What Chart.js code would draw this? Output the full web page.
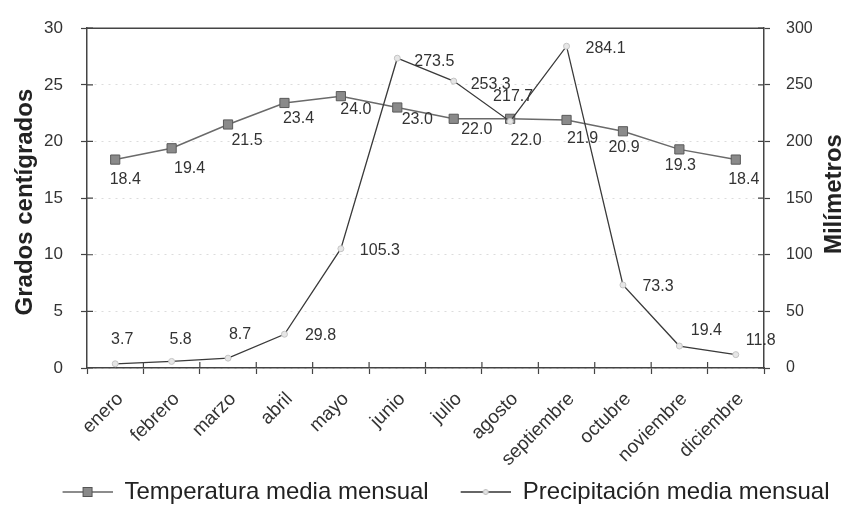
<!DOCTYPE html>
<html lang="es">
<head>
<meta charset="utf-8">
<title>Temperatura y precipitación media mensual</title>
<script src="https://cdn.jsdelivr.net/npm/chart.js@4.4.1/dist/chart.umd.min.js"></script>
<style>
  html, body { margin: 0; padding: 0; background: #fff; }
  #wrap { width: 844px; height: 514px; position: relative; }
</style>
</head>
<body>
<div id="wrap"><canvas id="clima"></canvas></div>
<script>
// --- DATOS ---
const meses = ['enero', 'febrero', 'marzo', 'abril', 'mayo', 'junio', 'julio',
               'agosto', 'septiembre', 'octubre', 'noviembre', 'diciembre'];
const temperatura = [18.4, 19.4, 21.5, 23.4, 24.0, 23.0, 22.0, 22.0, 21.9, 20.9, 19.3, 18.4];
const precipitacion = [3.7, 5.8, 8.7, 29.8, 105.3, 273.5, 253.3, 217.7, 284.1, 73.3, 19.4, 11.8];

// ejes: [min, max, paso]
const ejeGrados = [0, 30, 5];
const ejeMilimetros = [0, 300, 50];

// desplazamiento de las etiquetas de valor respecto al punto (px)
const offTemp = [[10,20],[18,20],[19,16],[14,16],[15,13],[20,12],[23,11],[16,22],[16,19],[1,16],[1,16],[8,20]];
const offPrec = [[7,-24],[9,-22],[12,-24],[36,1],[39,2],[37,3],[37,3],[3,-25],[39,2],[35,2],[27,-15],[25,-14]];

const FONT = "'Liberation Sans', Arial, Helvetica, sans-serif";
Chart.defaults.font.family = FONT;
Chart.defaults.color = '#333';

// simbolos de la leyenda: linea con marcador al centro
function legendSymbol(kind) {
    const c = document.createElement('canvas');
    c.width = 72; c.height = 14;
    const g = c.getContext('2d');
    g.strokeStyle = kind === 'temp' ? '#666' : '#333';
    g.lineWidth = 1.5;
    g.beginPath(); g.moveTo(22, 7); g.lineTo(72, 7); g.stroke();
    if (kind === 'temp') {
        g.fillStyle = '#8a8a8a'; g.strokeStyle = '#555'; g.lineWidth = 1;
        g.fillRect(42.5, 2.5, 9, 9); g.strokeRect(42.5, 2.5, 9, 9);
    } else {
        g.fillStyle = '#e4e4e4'; g.strokeStyle = '#bbb'; g.lineWidth = 1;
        g.beginPath(); g.arc(47, 7, 2.5, 0, Math.PI * 2); g.fill(); g.stroke();
    }
    return c;
}
const simbolos = [legendSymbol('temp'), legendSymbol('prec')];

// --- PLUGINS ---
const valueLabels = {
    id: 'valueLabels',
    afterDatasetsDraw(chart) {
        const ctx = chart.ctx;
        ctx.save();
        ctx.font = '16px ' + FONT;
        ctx.fillStyle = '#333';
        ctx.textAlign = 'center';
        ctx.textBaseline = 'middle';
        chart.data.datasets.forEach((ds, di) => {
            const meta = chart.getDatasetMeta(di);
            const offs = di === 0 ? offTemp : offPrec;
            meta.data.forEach((pt, i) => {
                ctx.fillText(ds.data[i].toFixed(1), pt.x + offs[i][0], pt.y + offs[i][1]);
            });
        });
        ctx.restore();
    }
};

const frame = {
    id: 'frame',
    afterDraw(chart) {
        const { ctx, chartArea: a, scales } = chart;
        ctx.save();
        ctx.strokeStyle = '#444';
        ctx.lineWidth = 1.5;
        // borde superior
        ctx.beginPath(); ctx.moveTo(a.left, a.top); ctx.lineTo(a.right, a.top); ctx.stroke();
        // marcas que cruzan el eje hacia dentro
        ctx.lineWidth = 1.2;
        ctx.beginPath();
        scales.y.ticks.forEach(t => {
            const py = scales.y.getPixelForValue(t.value);
            ctx.moveTo(a.left, py); ctx.lineTo(a.left + 6, py);
        });
        scales.y1.ticks.forEach(t => {
            const py = scales.y1.getPixelForValue(t.value);
            ctx.moveTo(a.right - 6, py); ctx.lineTo(a.right, py);
        });
        for (let i = 1; i < meses.length; i++) {
            const px = (scales.x.getPixelForValue(i - 1) + scales.x.getPixelForValue(i)) / 2;
            ctx.moveTo(px, a.bottom - 6); ctx.lineTo(px, a.bottom);
        }
        ctx.stroke();

        // titulos de los ejes (ambos de abajo hacia arriba)
        ctx.fillStyle = '#222';
        ctx.font = 'bold 24px ' + FONT;
        ctx.textAlign = 'center';
        ctx.textBaseline = 'middle';
        const cy = (a.top + a.bottom) / 2;
        [['Grados centígrados', 25, cy + 4], ['Milímetros', 834, cy - 4]].forEach(([txt, x, y]) => {
            ctx.save();
            ctx.translate(x, y);
            ctx.rotate(-Math.PI / 2);
            ctx.fillText(txt, 0, 0);
            ctx.restore();
        });
        ctx.restore();
    }
};

// --- GRAFICO ---
new Chart(document.getElementById('clima'), {
    type: 'line',
    data: {
        labels: meses,
        datasets: [{
            label: 'Temperatura media mensual',
            data: temperatura,
            yAxisID: 'y',
            order: 1,
            borderColor: '#6a6a6a',
            borderWidth: 1.5,
            pointStyle: 'rect',
            pointRadius: 6.5,
            pointBackgroundColor: '#8a8a8a',
            pointBorderColor: '#5a5a5a',
            pointBorderWidth: 1,
            tension: 0
        }, {
            label: 'Precipitación media mensual',
            data: precipitacion,
            yAxisID: 'y1',
            order: 0,
            borderColor: '#3a3a3a',
            borderWidth: 1.3,
            pointStyle: 'circle',
            pointRadius: 3,
            pointBackgroundColor: '#e6e6e6',
            pointBorderColor: '#c4c4c4',
            pointBorderWidth: 1,
            tension: 0
        }]
    },
    options: {
        responsive: true,
        maintainAspectRatio: false,
        animation: false,
        layout: { padding: { left: 26, right: 0, top: 19, bottom: 0 } },
        plugins: {
            tooltip: { enabled: false },
            legend: {
                position: 'bottom',
                labels: {
                    usePointStyle: true,
                    pointStyleWidth: 72,
                    padding: 10,
                    color: '#222',
                    font: { size: 24 },
                    generateLabels(chart) {
                        const items = Chart.defaults.plugins.legend.labels.generateLabels(chart);
                        items.sort((a, b) => a.datasetIndex - b.datasetIndex);
                        items.forEach(it => { it.pointStyle = simbolos[it.datasetIndex]; });
                        return items;
                    }
                }
            }
        },
        scales: {
            x: {
                offset: true,
                afterFit: s => { s.height = 102; },
                grid: { offset: true, drawOnChartArea: false, color: '#444', tickLength: 6, tickWidth: 1.2 },
                border: { color: '#444', width: 1.5 },
                ticks: { minRotation: 45, maxRotation: 45, padding: 14, labelOffset: 5, font: { size: 19 }, color: '#333' }
            },
            y: {
                position: 'left',
                min: ejeGrados[0], max: ejeGrados[1],
                afterFit: s => { s.width = 61; },
                grid: { color: '#dcdcdc', tickColor: '#444', tickLength: 6, tickWidth: 1.2 },
                border: { color: '#444', width: 1.5, dash: [2, 5] },
                ticks: { stepSize: ejeGrados[2], padding: 18, font: { size: 17 }, color: '#333' }
            },
            y1: {
                position: 'right',
                min: ejeMilimetros[0], max: ejeMilimetros[1],
                afterFit: s => { s.width = 80; },
                grid: { drawOnChartArea: false, tickColor: '#444', tickLength: 6, tickWidth: 1.2 },
                border: { color: '#444', width: 1.5 },
                ticks: { stepSize: ejeMilimetros[2], padding: 16, font: { size: 16 }, color: '#333' }
            }
        }
    },
    plugins: [valueLabels, frame]
});
</script>
</body>
</html>
